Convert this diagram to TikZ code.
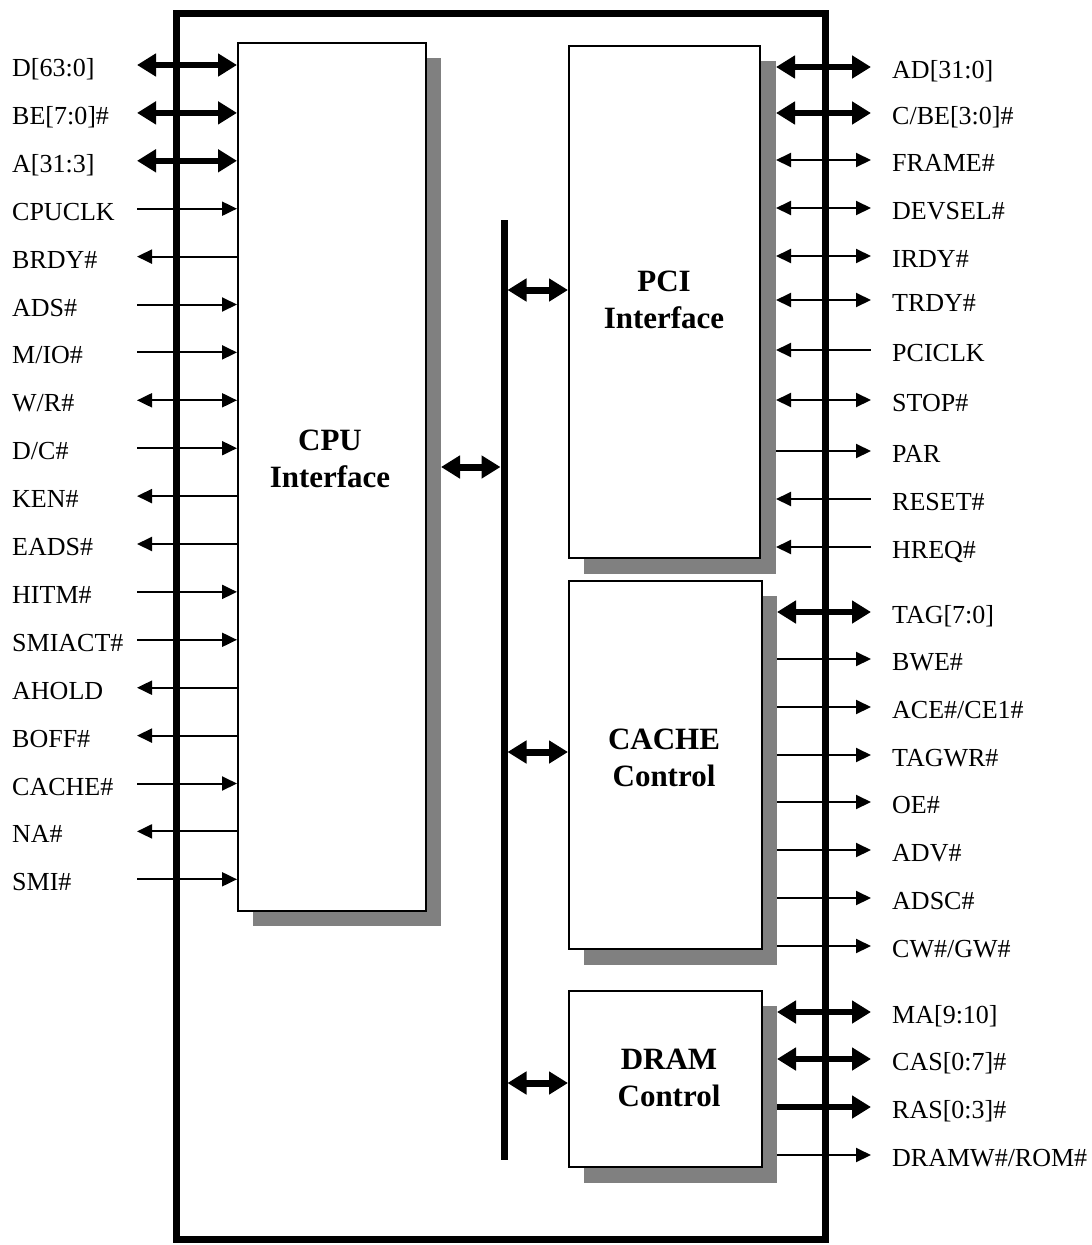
\documentclass[tikz,border=0pt]{standalone}
\usepackage{fontspec}
\setmainfont{Liberation Serif}
\usetikzlibrary{arrows.meta}
\begin{document}
\begin{tikzpicture}[x=1pt,y=-1pt,
  BT/.tip={Triangle[length=19pt,width=22pt]},
  ST/.tip={Triangle[length=15pt,width=14pt]},
  box/.style={draw, line width=2pt, fill=white, anchor=north west, inner sep=0pt, outer sep=1pt},
  shadowbox/.style={fill=black!50, anchor=north west, inner sep=0pt, outer sep=0pt},
  sig/.style={font=\fontsize{26}{30}\selectfont, anchor=base west, inner sep=0pt},
  title/.style={font=\fontsize{31}{37}\selectfont\bfseries, align=center, inner sep=0pt},
  bigboth/.style={line width=6pt, BT-BT},
  bigfwd/.style={line width=6pt, -BT},
  busarrow/.style={line width=7pt, BT-BT},
  fwd/.style={line width=2pt, -ST},
  back/.style={line width=2pt, ST-},
  both/.style={line width=2pt, ST-ST}]
\useasboundingbox (0,0) rectangle (1092,1245);
% outer chip outline
\draw[line width=7pt] (176.5,13.5) rectangle (825.5,1239);
% shadows
\node[shadowbox, minimum width=188pt, minimum height=868pt] (cpush) at (253,58) {};
\node[shadowbox, minimum width=192pt, minimum height=513pt] (pcish) at (584,61) {};
\node[shadowbox, minimum width=193pt, minimum height=369pt] (cachesh) at (584,596) {};
\node[shadowbox, minimum width=193pt, minimum height=177pt] (dramsh) at (584,1006) {};
% blocks
\node[box, minimum width=188pt, minimum height=868pt] (cpu) at (237,42) {};
\node[box, minimum width=191pt, minimum height=512pt] (pci) at (568,45) {};
\node[box, minimum width=193pt, minimum height=368pt] (cache) at (568,580) {};
\node[box, minimum width=193pt, minimum height=176pt] (dram) at (568,990) {};
% titles
\node[title] (cput) at (330,459) {CPU\\Interface};
\node[title] (pcit) at (664,300) {PCI\\Interface};
\node[title] (cachet) at (664,758) {CACHE\\Control};
\node[title] (dramt) at (669,1078) {DRAM\\Control};
% internal bus
\coordinate (bustop) at (504,220);
\coordinate (busbot) at (504,1160);
\draw[line width=7pt] (bustop) -- (busbot);
\coordinate (bcpu) at (500.5,467);
\coordinate (bpci) at (507.5,290);
\coordinate (bcache) at (507.5,752);
\coordinate (bdram) at (507.5,1083);
\draw[busarrow] (bcpu -| cpush.east) -- (bcpu);
\draw[busarrow] (bpci) -- (bpci -| pci.west);
\draw[busarrow] (bcache) -- (bcache -| cache.west);
\draw[busarrow] (bdram) -- (bdram -| dram.west);
% CPU side signals
\foreach \lab/\sty [count=\i from 0] in {D[63:0]/bigboth, BE[7:0]\#/bigboth, A[31:3]/bigboth,
  CPUCLK/fwd, BRDY\#/back, ADS\#/fwd, {M/IO\#}/fwd, {W/R\#}/both, {D/C\#}/fwd, KEN\#/back,
  EADS\#/back, HITM\#/fwd, SMIACT\#/fwd, AHOLD/back, BOFF\#/back, CACHE\#/fwd, NA\#/back, SMI\#/fwd} {
  \pgfmathsetmacro\yy{65+47.9*\i}
  \coordinate (L\i) at (137,\yy);
  \node[sig] (Lt\i) at (12,\yy+11.5) {\lab};
  \draw[\sty] (L\i) -- (L\i -| cpu.west);
}
% PCI, cache and DRAM side signals
\foreach \yy/\lab/\sty/\bx [count=\i] in {67/AD[31:0]/bigboth/pcish, 113/{C/BE[3:0]\#}/bigboth/pcish,
  160/FRAME\#/both/pcish, 208/DEVSEL\#/both/pcish, 256/IRDY\#/both/pcish, 300/TRDY\#/both/pcish,
  350/PCICLK/back/pcish, 400/STOP\#/both/pcish, 451/PAR/fwd/pcish, 499/RESET\#/back/pcish,
  547/HREQ\#/back/pcish,
  612/TAG[7:0]/bigboth/cachesh, 659/BWE\#/fwd/cachesh, 707/{ACE\#/CE1\#}/fwd/cachesh,
  755/TAGWR\#/fwd/cachesh, 802/OE\#/fwd/cachesh, 850/ADV\#/fwd/cachesh, 898/ADSC\#/fwd/cachesh,
  946/{CW\#/GW\#}/fwd/cachesh,
  1012/MA[9:10]/bigboth/dramsh, 1059/CAS[0:7]\#/bigboth/dramsh, 1107/RAS[0:3]\#/bigfwd/dramsh,
  1155/{DRAMW\#/ROM\#}/fwd/dramsh} {
  \coordinate (R\i) at (871,\yy);
  \node[sig] (Rt\i) at (892,\yy+11.5) {\lab};
  \draw[\sty] (R\i -| \bx.east) -- (R\i);
}
\end{tikzpicture}
\end{document}
